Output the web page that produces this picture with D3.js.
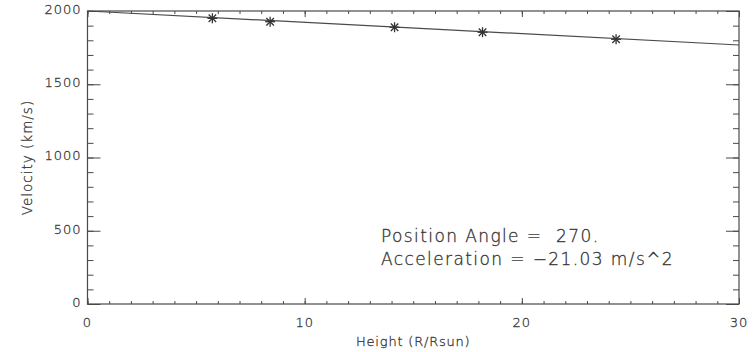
<!DOCTYPE html>
<html>
<head>
<meta charset="utf-8">
<script src="https://cdn.jsdelivr.net/npm/d3@7"></script>
<style>
  body { margin: 0; background: #fff; }
  text { font-family: "DejaVu Sans", sans-serif; fill: #222; stroke: #444; stroke-width: 0.3px; white-space: pre; }
</style>
</head>
<body>
<div id="container"></div>
<script>
/* DATA */
const heights = [5.75, 8.41, 14.14, 18.19, 24.34];      // R/Rsun
const velocities = [1950, 1927, 1889, 1855, 1807];    // km/s
const fitHeights = [0, 30];
const fitVelocities = [2000, 1768];
const xTicks = [0, 10, 20, 30];
const yTicks = [0, 500, 1000, 1500, 2000];
const notes = ["Position Angle =  270.", "Acceleration = \u221221.03 m/s^2"];

const W = 756, H = 352;
const margin = {top: 11, right: 17, bottom: 48, left: 87.5};
const width = W - margin.left - margin.right,
  height = H - margin.top - margin.bottom;
const ink = "#4a4a4a";

const svg = d3.select("#container").append("svg")
  .attr("width", W).attr("height", H);
const g = svg.append("g")
  .attr("transform", `translate(${margin.left},${margin.top})`);

const xScale = d3.scaleLinear().domain([0, 30]).range([0, width]);
const yScale = d3.scaleLinear().domain([0, 2000]).range([height, 0]);

const xMinor = d3.range(0, 31, 1);
const yMinor = d3.range(0, 2001, 100);

function styleAxis(sel) {
  sel.select(".domain").remove();
  sel.selectAll("line").attr("stroke", ink).attr("stroke-width", 1);
}

// minor ticks on all four sides
g.append("g").attr("transform", `translate(0,${height})`)
  .call(d3.axisTop(xScale).tickValues(xMinor).tickSize(3).tickFormat(""))
  .call(styleAxis);
g.append("g")
  .call(d3.axisBottom(xScale).tickValues(xMinor).tickSize(3).tickFormat(""))
  .call(styleAxis);
g.append("g")
  .call(d3.axisRight(yScale).tickValues(yMinor).tickSize(6).tickFormat(""))
  .call(styleAxis);
g.append("g").attr("transform", `translate(${width},0)`)
  .call(d3.axisLeft(yScale).tickValues(yMinor).tickSize(6).tickFormat(""))
  .call(styleAxis);

// major ticks
g.append("g").attr("transform", `translate(0,${height})`)
  .call(d3.axisTop(xScale).tickValues(xTicks).tickSize(6).tickFormat(""))
  .call(styleAxis);
g.append("g")
  .call(d3.axisBottom(xScale).tickValues(xTicks).tickSize(6).tickFormat(""))
  .call(styleAxis);
g.append("g")
  .call(d3.axisRight(yScale).tickValues(yTicks).tickSize(13).tickFormat(""))
  .call(styleAxis);
g.append("g").attr("transform", `translate(${width},0)`)
  .call(d3.axisLeft(yScale).tickValues(yTicks).tickSize(13).tickFormat(""))
  .call(styleAxis);

// frame
g.append("rect").attr("width", width).attr("height", height)
  .attr("fill", "none").attr("stroke", ink).attr("stroke-width", 1.2);

// tick labels
g.selectAll(".xl").data(xTicks).join("text")
  .attr("x", d => xScale(d)).attr("y", height + 23)
  .attr("text-anchor", "middle").style("font-size", "13px")
  .style("letter-spacing", "1px").style("font-weight", 200)
  .text(d => d);
g.selectAll(".yl").data(yTicks).join("text")
  .attr("x", -6).attr("y", d => yScale(d)).attr("dy", "0.22em")
  .attr("text-anchor", "end").style("font-size", "13px")
  .style("letter-spacing", "1px").style("font-weight", 200)
  .text(d => d);

// axis titles
g.append("text").attr("x", xScale(15)).attr("y", height + 42)
  .attr("text-anchor", "middle").style("font-size", "13px")
  .style("letter-spacing", "0.8px").style("font-weight", 200)
  .text("Height (R/Rsun)");
g.append("text")
  .attr("transform", `translate(-56,${yScale(1000)}) rotate(-90)`)
  .attr("text-anchor", "middle").style("font-size", "13.5px")
  .style("letter-spacing", "1px").style("font-weight", 200)
  .text("Velocity (km/s)");

// fit line
const line = d3.line().x(d => xScale(d[0])).y(d => yScale(d[1]));
g.append("path").datum(d3.zip(fitHeights, fitVelocities))
  .attr("d", line).attr("fill", "none").attr("stroke", ink).attr("stroke-width", 1.2);

// asterisks
const r = 5;
const stars = g.selectAll(".star").data(d3.zip(heights, velocities)).join("g")
  .attr("transform", d => `translate(${xScale(d[0])},${yScale(d[1])})`);
[[-r, 0, r, 0], [0, -r, 0, r], [-r * 0.75, -r * 0.75, r * 0.75, r * 0.75], [-r * 0.75, r * 0.75, r * 0.75, -r * 0.75]]
  .forEach(s => {
    stars.append("line")
      .attr("x1", s[0]).attr("y1", s[1]).attr("x2", s[2]).attr("y2", s[3])
      .attr("stroke", "#333").attr("stroke-width", 1.3);
  });

// annotations
g.selectAll(".note").data(notes).join("text")
  .attr("x", 381 - margin.left).attr("y", (d, i) => 242 - margin.top + i * 23)
  .style("font-size", "17px").style("letter-spacing", "1.4px")
  .style("font-weight", 200)
  .text(d => d);
</script>
</body>
</html>
